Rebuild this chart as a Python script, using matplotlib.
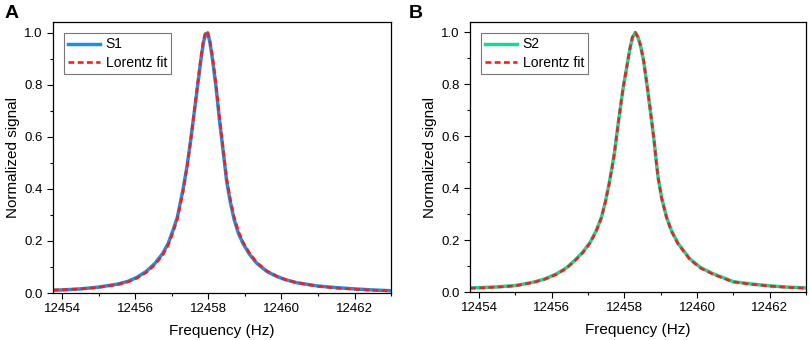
import numpy as np
import matplotlib
matplotlib.use('Agg')
from matplotlib import pyplot as plt
from matplotlib.ticker import MultipleLocator

plt.rcParams['font.family'] = ['Liberation Sans', 'DejaVu Sans']

# Panel A - sample S1
freq_s1 = [12453.75, 12454.0, 12454.5, 12455.0, 12455.5, 12455.8, 12456.04, 12456.3,
           12456.54, 12456.75, 12456.9, 12457.03, 12457.15, 12457.31, 12457.42, 12457.52,
           12457.62, 12457.72, 12457.8, 12457.87, 12457.93, 12457.98, 12458.04, 12458.12,
           12458.21, 12458.3, 12458.4, 12458.5, 12458.6, 12458.7, 12458.82, 12458.95,
           12459.12, 12459.32, 12459.6, 12459.87, 12460.1, 12460.41, 12461.0, 12461.5,
           12462.0, 12462.5, 12463.0]
sig_s1 = [0.011, 0.012, 0.016, 0.023, 0.034, 0.045, 0.060, 0.083,
          0.114, 0.152, 0.19, 0.24, 0.29, 0.40, 0.49, 0.59,
          0.70, 0.81, 0.90, 0.965, 0.995, 0.998, 0.965, 0.89,
          0.79, 0.67, 0.55, 0.43, 0.35, 0.285, 0.23, 0.19,
          0.15, 0.115, 0.083, 0.064, 0.052, 0.040, 0.027, 0.021,
          0.016, 0.012, 0.009]
fit_s1 = [0.012, 0.013, 0.016, 0.022, 0.032, 0.043, 0.057, 0.079,
          0.109, 0.146, 0.183, 0.232, 0.283, 0.39, 0.485, 0.59,
          0.705, 0.82, 0.91, 0.975, 1.005, 1.0, 0.97, 0.9,
          0.8, 0.68, 0.56, 0.44, 0.36, 0.295, 0.238, 0.195,
          0.155, 0.118, 0.085, 0.065, 0.052, 0.040, 0.026, 0.019,
          0.015, 0.011, 0.009]

# Panel B - sample S2
freq_s2 = [12453.75, 12454.0, 12454.5, 12455.0, 12455.49, 12455.8, 12456.13, 12456.4,
           12456.64, 12456.85, 12457.05, 12457.22, 12457.37, 12457.48, 12457.58, 12457.66,
           12457.73, 12457.84, 12457.97, 12458.07, 12458.15, 12458.22, 12458.3, 12458.38,
           12458.45, 12458.53, 12458.63, 12458.75, 12458.82, 12458.88, 12458.93, 12459.03,
           12459.16, 12459.3, 12459.48, 12459.8, 12460.1, 12460.45, 12461.0, 12461.5,
           12462.0, 12462.5, 12463.0]
sig_s2 = [0.016, 0.017, 0.020, 0.025, 0.038, 0.050, 0.070, 0.093,
          0.123, 0.153, 0.19, 0.235, 0.289, 0.35, 0.418, 0.48,
          0.54, 0.66, 0.79, 0.87, 0.935, 0.98, 1.0, 0.98,
          0.945, 0.89, 0.79, 0.66, 0.58, 0.50, 0.44, 0.36,
          0.289, 0.235, 0.187, 0.128, 0.094, 0.070, 0.040, 0.031,
          0.024, 0.019, 0.016]
fit_s2 = [0.015, 0.016, 0.019, 0.024, 0.037, 0.049, 0.068, 0.091,
          0.121, 0.151, 0.188, 0.233, 0.287, 0.349, 0.417, 0.48,
          0.54, 0.662, 0.792, 0.872, 0.937, 0.982, 1.0, 0.981,
          0.946, 0.891, 0.79, 0.66, 0.579, 0.499, 0.439, 0.358,
          0.287, 0.233, 0.185, 0.126, 0.092, 0.068, 0.039, 0.030,
          0.023, 0.018, 0.015]

xticks = [12454, 12456, 12458, 12460, 12462]
yticks = [0.0, 0.2, 0.4, 0.6, 0.8, 1.0]

fig = plt.figure(figsize=(8.09, 3.4), dpi=100)
ax_a = fig.add_axes([0.0655, 0.138, 0.418, 0.797])
ax_b = fig.add_axes([0.581, 0.141, 0.4153, 0.794])


def draw_panel(ax, freq, sig, fit, label, color):
    ax.plot(freq, sig, color=color, lw=2.5, label=label)
    ax.plot(freq, fit, color='#ff1a1a', lw=1.9, ls=(0, (2.2, 1.3)), label='Lorentz fit')
    ax.set_xlim(12453.75, 12463)
    ax.set_ylim(0, 1.04)
    ax.set_xticks(xticks)
    ax.set_yticks(yticks)
    ax.set_yticklabels(['%.1f' % v for v in yticks])
    ax.xaxis.set_minor_locator(MultipleLocator(1))
    ax.yaxis.set_minor_locator(MultipleLocator(0.1))
    ax.tick_params(which='both', direction='out', labelsize=9.5, width=0.8)
    ax.tick_params(which='major', length=4)
    ax.tick_params(which='minor', length=2.5)
    for s in ax.spines.values():
        s.set_linewidth(0.9)
    ax.set_xlabel('Frequency (Hz)', fontsize=11, labelpad=6)
    ax.set_ylabel('Normalized signal', fontsize=11, labelpad=3)
    leg = ax.legend(loc='upper left', fontsize=10, handlelength=2.3, handletextpad=0.4,
                    borderpad=0.3, labelspacing=0.3, fancybox=False, framealpha=1,
                    edgecolor='#777777', borderaxespad=0.8)
    leg.get_frame().set_linewidth(0.8)


draw_panel(ax_a, freq_s1, sig_s1, fit_s1, 'S1', '#1f8fe6')
draw_panel(ax_b, freq_s2, sig_s2, fit_s2, 'S2', '#14d99a')

fig.text(0.006, 0.985, 'A', fontsize=14, fontweight='bold', va='top', ha='left')
fig.text(0.505, 0.985, 'B', fontsize=14, fontweight='bold', va='top', ha='left')

fig.savefig('out.png', dpi=100)
